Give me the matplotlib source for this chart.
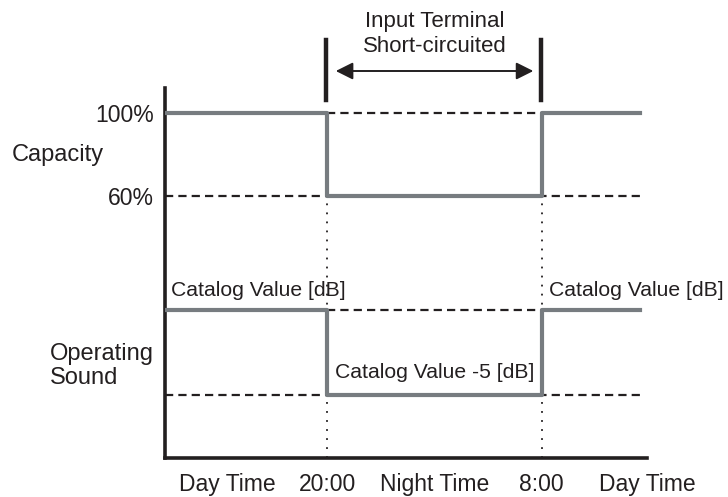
import matplotlib
matplotlib.use('Agg')
import matplotlib.pyplot as plt

plt.rcParams['font.family'] = ['Liberation Sans', 'DejaVu Sans']
INK = '#231f20'
GRAY = '#777c80'

# time axis (clock hours, 8:00 next morning = 32)
t_edges = [10.9, 20, 32, 37.5]
switch_times = [20, 32]
time_labels = ['Day Time', '20:00', 'Night Time', '8:00', 'Day Time']
time_label_x = [14.4, 20, 26, 32, 37.9]

# levels for each phase
capacity_pct = [100, 60, 100]
sound_db = [0, -5, 0]
capacity_ticks = [100, 60]
capacity_ticklabels = ['100%', '60%']


# schematic placement of the two bands on one axes
def cap_y(p):
    return 262 + (p - 60) * 83 / 40


def snd_y(db):
    return 148 + db * 85 / 5


fig = plt.figure(figsize=(7.28, 4.97), dpi=100)
ax = fig.add_axes([165/728, 39/497, 482/728, 370/497])
ax.set_xlim(10.9, 37.9)
ax.set_ylim(0, 370)

dash = dict(color=INK, lw=1.6, linestyle=(0, (3.7, 2.3)), zorder=2)
# reference (dashed) levels
ax.plot([switch_times[0], switch_times[1]], [cap_y(100)] * 2, **dash)
ax.plot([t_edges[0], t_edges[-1]], [cap_y(60)] * 2, **dash)
ax.plot([switch_times[0], switch_times[1]], [snd_y(0)] * 2, **dash)
ax.plot([t_edges[0], t_edges[-1]], [snd_y(-5)] * 2, **dash)

# dotted switch markers
for t in switch_times:
    ax.plot([t, t], [0, cap_y(60)], color=INK, lw=1.3, linestyle=(0, (1, 4)), zorder=1)

# step curves
cap_vals = [cap_y(p) for p in capacity_pct]
snd_vals = [snd_y(d) for d in sound_db]
ax.step(t_edges, cap_vals + [cap_vals[-1]], where='post', color=GRAY, lw=3.0, zorder=3)
ax.step(t_edges, snd_vals + [snd_vals[-1]], where='post', color=GRAY, lw=3.0, zorder=3)

# text on sound band
ax.text(t_edges[0] + 0.35, snd_y(0) + 20, 'Catalog Value [dB]', fontsize=15.2, color=INK, va='center')
ax.text(32.4, snd_y(0) + 20, 'Catalog Value [dB]', fontsize=15.2, color=INK, va='center', clip_on=False)
ax.text(20.4, snd_y(-5) + 22, 'Catalog Value -5 [dB]', fontsize=15.2, color=INK, va='center')

# short-circuit period marker above the axes
for t in switch_times:
    ax.plot([t - 0.06, t - 0.06], [358, 418], color=INK, lw=3.2, clip_on=False)
ax.annotate('', xy=(switch_times[1], 387), xytext=(switch_times[0], 387),
            arrowprops=dict(arrowstyle='<|-|>', mutation_scale=26, lw=1.4, color=INK,
                            shrinkA=6, shrinkB=6), annotation_clip=False)
ax.text(26, 424, 'Input Terminal\nShort-circuited', fontsize=16, color=INK,
        ha='center', va='center', linespacing=1.2, clip_on=False)

# axes styling
for s in ['top', 'right']:
    ax.spines[s].set_visible(False)
for s in ['left', 'bottom']:
    ax.spines[s].set_linewidth(2.6)
    ax.spines[s].set_color(INK)
ax.set_yticks([cap_y(p) for p in capacity_ticks], capacity_ticklabels, fontsize=16.5, color=INK)
ax.set_xticks(time_label_x, time_labels, fontsize=16.5, color=INK)
ax.tick_params(axis='y', length=0, pad=8)
ax.tick_params(axis='x', length=0, pad=10.5)

fig.text(12/728, 1 - 155/497, 'Capacity', fontsize=17, color=INK, va='center')
fig.text(50/728, 1 - 366/497, 'Operating\nSound', fontsize=17, color=INK, va='center',
         linespacing=1.12)

fig.savefig('out.png', dpi=100)
